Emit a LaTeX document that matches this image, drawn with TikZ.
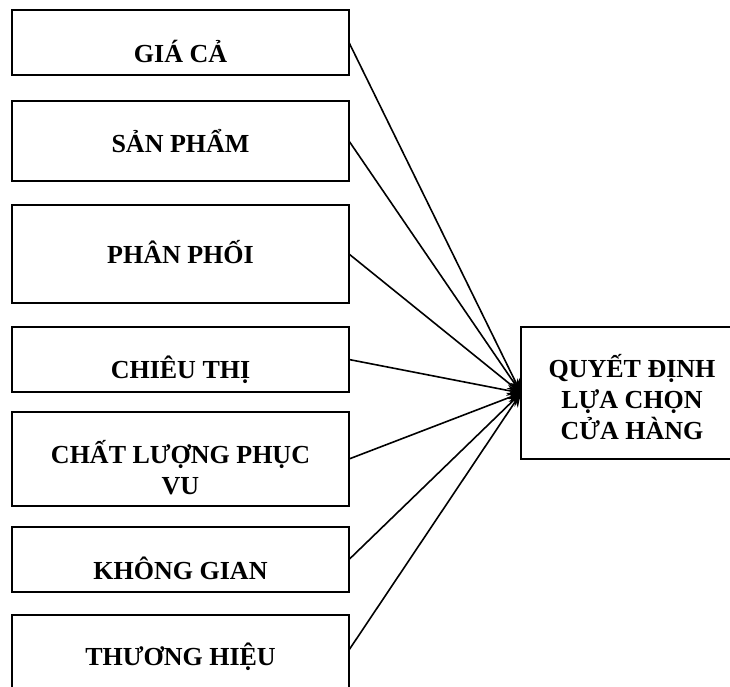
\documentclass[tikz,border=0pt]{standalone}
\usepackage{fontspec}
\setmainfont{Liberation Serif}
\usetikzlibrary{arrows.meta}

\tikzset{
  factor/.style={draw, line width=1.7pt, minimum width=337pt, inner sep=0pt, outer sep=0pt},
  result/.style={draw, line width=1.7pt, minimum width=222pt, minimum height=132pt, inner sep=0pt, outer sep=0pt},
  caption/.style={anchor=base, font=\fontsize{26}{31}\selectfont\bfseries, align=center, inner sep=0pt},
  link/.style={line width=1.6pt, -{Stealth[length=14pt,width=11pt]}}
}

\begin{document}
\begin{tikzpicture}[x=1pt, y=-1pt]
  \useasboundingbox (0,0) rectangle (730,686);
  \clip (0,0) rectangle (730,686);
  \fill[white] (0,0) rectangle (730,686);

  % factor boxes on the left
  \node[factor, minimum height=65pt] (gia)  at (180.5, 42.5) {};
  \node[factor, minimum height=80pt] (sp)   at (180.5, 141) {};
  \node[factor, minimum height=98pt] (pp)   at (180.5, 254) {};
  \node[factor, minimum height=65pt] (ct)   at (180.5, 359.5) {};
  \node[factor, minimum height=94pt] (clpv) at (180.5, 459) {};
  \node[factor, minimum height=65pt] (kg)   at (180.5, 559.5) {};
  \node[factor, minimum height=80pt] (th)   at (180.5, 655) {};

  % decision box on the right
  \node[result] (qd) at (632, 393) {};

  % box texts, placed by the baseline of their last line below each box's top edge
  \node[caption] (tgia)  at ([yshift=-52pt]gia.north)  {GIÁ CẢ};
  \node[caption] (tsp)   at ([yshift=-51pt]sp.north)   {SẢN PHẨM};
  \node[caption] (tpp)   at ([yshift=-58pt]pp.north)   {PHÂN PHỐI};
  \node[caption] (tct)   at ([yshift=-51pt]ct.north)   {CHIÊU THỊ};
  \node[caption] (tclpv) at ([yshift=-82pt]clpv.north) {CHẤT LƯỢNG PHỤC\\VU};
  \node[caption] (tkg)   at ([yshift=-52pt]kg.north)   {KHÔNG GIAN};
  \node[caption] (tth)   at ([yshift=-50pt]th.north)   {THƯƠNG HIỆU};
  \node[caption] (tqd)   at ([yshift=-112pt]qd.north)  {QUYẾT ĐỊNH\\LỰA CHỌN\\CỬA HÀNG};

  % every factor points at the decision
  \foreach \f in {gia, sp, pp, ct, clpv, kg}
    \draw[link] (\f.east) -- (qd.west);
  \draw[link] ([yshift=5pt]th.east) -- (qd.west);
\end{tikzpicture}
\end{document}
